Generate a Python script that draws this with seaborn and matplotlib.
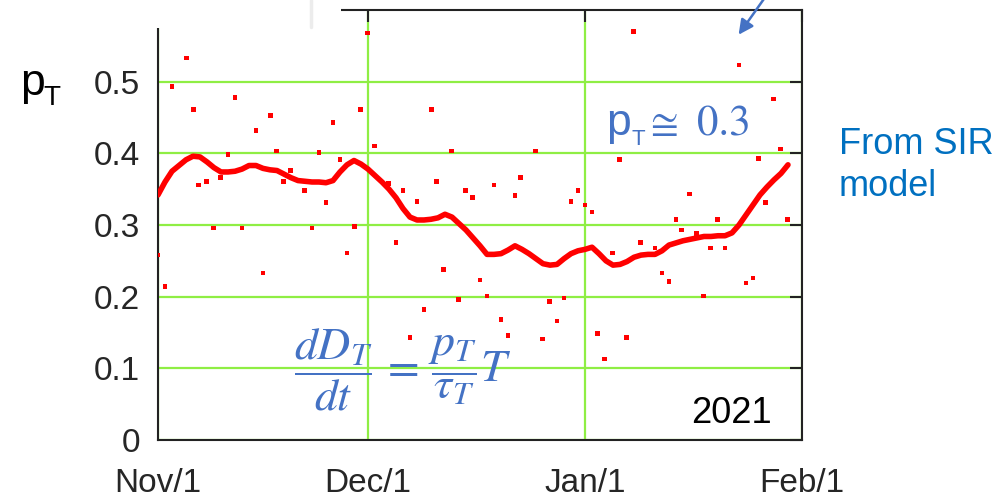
import matplotlib
matplotlib.use("Agg")
import matplotlib.pyplot as plt
import seaborn as sns
from matplotlib.patches import Rectangle
from matplotlib.lines import Line2D

# Day offsets are counted from Nov 1, 2020
month_ticks = [0, 30, 61, 92]
month_labels = ["Nov/1", "Dec/1", "Jan/1", "Feb/1"]
y_ticks = [0, 0.1, 0.2, 0.3, 0.4, 0.5]
y_labels = ["0", "0.1", "0.2", "0.3", "0.4", "0.5"]

# Daily estimates of p_T
daily_days = [0.0, 1.0, 2.0, 4.1, 5.1, 5.8, 6.9, 7.9, 8.9, 10.0, 11.0, 12.0, 14.0,
              15.0, 16.1, 16.9, 17.9, 18.9, 20.9, 22.0, 23.0, 24.0, 25.0, 26.0,
              27.0, 28.1, 28.9, 29.9, 30.9, 32.9, 34.0, 35.0, 36.0, 37.0, 38.0,
              39.1, 39.8, 40.8, 41.9, 42.9, 43.9, 44.9, 46.0, 47.0, 48.0, 49.0,
              50.0, 51.0, 51.8, 53.9, 54.9, 55.9, 57.0, 58.0, 59.0, 60.0, 61.0,
              62.0, 62.8, 63.8, 64.9, 65.9, 66.9, 67.9, 68.9, 71.0, 72.0, 73.0,
              74.0, 74.8, 75.9, 76.9, 77.9, 78.9, 79.9, 81.0, 83.0, 84.0, 85.0,
              85.8, 86.8, 87.9, 88.9, 89.9]
daily_pT = [0.258, 0.214, 0.493, 0.533, 0.461, 0.356, 0.361, 0.296, 0.366, 0.398,
            0.478, 0.296, 0.432, 0.233, 0.453, 0.403, 0.361, 0.376, 0.348, 0.296,
            0.401, 0.331, 0.443, 0.391, 0.261, 0.298, 0.461, 0.568, 0.410, 0.358,
            0.276, 0.348, 0.143, 0.333, 0.182, 0.461, 0.361, 0.238, 0.403, 0.196,
            0.348, 0.338, 0.223, 0.201, 0.356, 0.168, 0.146, 0.341, 0.366, 0.403,
            0.141, 0.193, 0.166, 0.198, 0.333, 0.348, 0.328, 0.318, 0.149, 0.113,
            0.261, 0.391, 0.143, 0.570, 0.276, 0.268, 0.233, 0.221, 0.308, 0.293,
            0.343, 0.288, 0.201, 0.268, 0.308, 0.268, 0.523, 0.219, 0.226, 0.393,
            0.331, 0.476, 0.406, 0.308]

# Smoothed p_T, one value per day
smooth_days = list(range(0, 91))
smooth_pT = [0.342, 0.360, 0.375, 0.383, 0.391, 0.396, 0.395, 0.388, 0.380, 0.374,
             0.374, 0.375, 0.378, 0.383, 0.383, 0.379, 0.377, 0.376, 0.371, 0.366,
             0.362, 0.361, 0.360, 0.360, 0.359, 0.362, 0.374, 0.384, 0.390, 0.385,
             0.378, 0.369, 0.360, 0.350, 0.338, 0.323, 0.311, 0.307, 0.307, 0.308,
             0.310, 0.315, 0.311, 0.302, 0.293, 0.282, 0.271, 0.259, 0.259, 0.260,
             0.265, 0.271, 0.266, 0.260, 0.253, 0.246, 0.244, 0.245, 0.253, 0.260,
             0.264, 0.266, 0.269, 0.260, 0.250, 0.244, 0.245, 0.249, 0.255, 0.258,
             0.259, 0.259, 0.264, 0.272, 0.275, 0.278, 0.280, 0.282, 0.284, 0.284,
             0.285, 0.285, 0.289, 0.300, 0.314, 0.328, 0.342, 0.353, 0.363, 0.372,
             0.384]

sns.set_style("white")
plt.rcParams["font.family"] = ["Liberation Sans", "DejaVu Sans"]

W, H = 1000, 498
fig = plt.figure(figsize=(W / 100, H / 100), dpi=100)
ax = fig.add_axes([158 / W, 1 - 440 / H, 644 / W, 430 / H])


def fx(px):
    return px / W


def fy(py):
    return 1 - py / H


sns.scatterplot(x=daily_days, y=daily_pT, ax=ax, marker="s", s=11,
                color="#ff0000", edgecolor="none", linewidth=0, zorder=3)
sns.lineplot(x=smooth_days, y=smooth_pT, ax=ax, color="#ff0000", lw=4.0, zorder=4)

ax.set_xlim(0, 92)
ax.set_ylim(0, 0.6)
ax.set_xticks(month_ticks)
ax.set_xticklabels(month_labels)
ax.set_yticks(y_ticks)
ax.set_yticklabels(y_labels)
ax.grid(True, color="#8fee44", lw=1.6)
ax.tick_params(direction="in", length=8.5, width=1.5, color="#222222",
               top=True, right=True, labelsize=24)
ax.tick_params(axis="y", pad=13)
ax.tick_params(axis="x", pad=20)
for sp in ax.spines.values():
    sp.set_color("#222222")
    sp.set_linewidth(1.5)
    sp.set_visible(True)
ax.set_xlabel("")
ax.set_ylabel("")

# Panel covering the upper-left corner of the frame
fig.patches.append(Rectangle((fx(150), fy(28)), (341 - 150) / W, 28 / H,
                             transform=fig.transFigure, facecolor="white",
                             edgecolor="none", zorder=10))
fig.lines.append(Line2D([fx(311), fx(311)], [fy(0), fy(27)], color="#ececec",
                        lw=2.5, transform=fig.transFigure, zorder=11))

blue = "#4472C4"

# Axis label p_T
fig.text(fx(20), fy(95), "p", fontsize=32, color="black", va="baseline", ha="left")
fig.text(fx(43), fy(105), "T", fontsize=20, color="black", va="baseline", ha="left")

# Annotation p_T ≅ 0.3
serif = ["STIXGeneral", "DejaVu Serif"]
fig.text(fx(606), fy(135), "p", fontsize=32, color=blue, va="baseline", ha="left")
fig.text(fx(632), fy(145), "T", fontsize=16, color=blue, va="baseline", ha="left")
fig.text(fx(650), fy(135), "≅", fontsize=29, color=blue, va="baseline",
         ha="left", family=serif)
fig.text(fx(697), fy(135), "0.3", fontsize=31, color=blue, va="baseline",
         ha="left", family=serif)

# Model equation
fig.text(fx(294), fy(370), r"$\dfrac{dD_T}{dt}\,=\,\dfrac{p_T}{\tau_T}T$",
         fontsize=33, color=blue, va="center", ha="left", math_fontfamily="stix")

fig.text(fx(772), fy(423), "2021", fontsize=26, color="black", va="baseline", ha="right")

fig.text(fx(839), fy(154), "From SIR", fontsize=26, color="#0070C0", va="baseline", ha="left")
fig.text(fx(839), fy(196), "model", fontsize=26, color="#0070C0", va="baseline", ha="left")

ax.annotate("", xy=(fx(737), fy(37)), xycoords="figure fraction",
            xytext=(fx(766), fy(-4)), textcoords="figure fraction",
            arrowprops=dict(arrowstyle="-|>", color=blue, lw=1.8, mutation_scale=22),
            annotation_clip=False)

fig.savefig("out.png", dpi=100)
